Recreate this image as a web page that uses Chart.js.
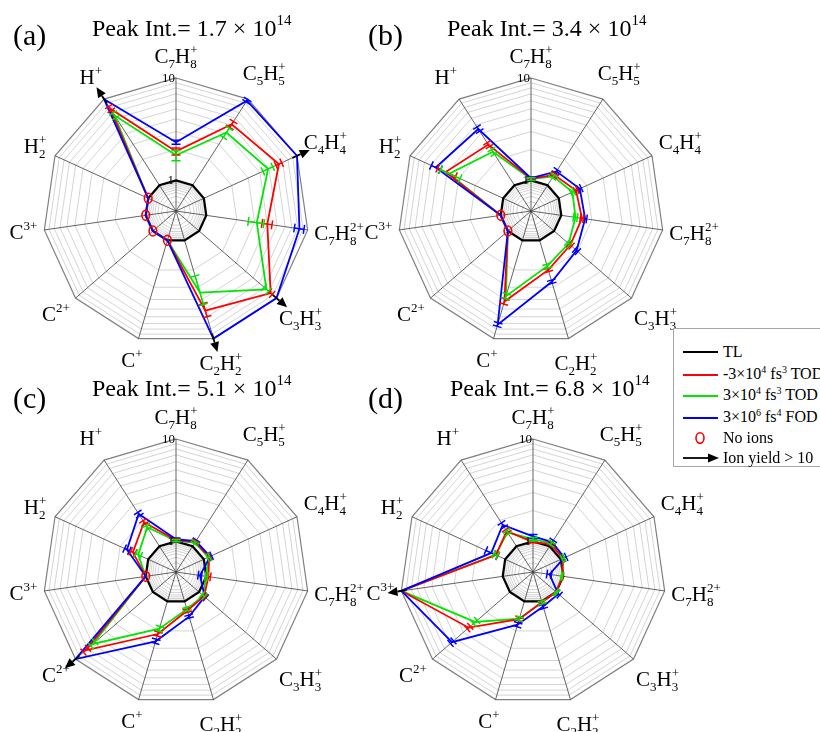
<!DOCTYPE html>
<html>
<head>
<meta charset="utf-8">
<script src="https://cdn.jsdelivr.net/npm/chart.js@4"></script>
<style>
  body { margin: 0; background: #fff; }
  #page { position: relative; width: 820px; height: 732px; overflow: hidden;
          font-family: "Liberation Serif", "Times New Roman", serif; color: #000; }
  canvas { position: absolute; }
  .tag { position: absolute; font-size: 30px; line-height: 1; }
  .title { position: absolute; font-size: 24px; line-height: 1; white-space: nowrap; }
  .title .sup { font-size: 15px; position: relative; top: -11px; }
  #legend { position: absolute; left: 673px; top: 328px; width: 170px; height: 137px;
            border: 1px solid #a6a6a6; background: #fff; font-size: 16px; z-index: 5; }
  .row { position: absolute; left: 9px; height: 20px; display: flex; align-items: center; white-space: nowrap; }
  .row svg { flex: none; }
  .row span.t { margin-left: 4px; line-height: 20px; }
  .row .sup { font-size: 10px; position: relative; top: -6px; }
</style>
</head>
<body>
<div id="page">
  <canvas id="pa" width="400" height="380" style="left:-24px;top:21px"></canvas>
  <canvas id="pb" width="400" height="380" style="left:331px;top:21px"></canvas>
  <canvas id="pc" width="400" height="380" style="left:-24px;top:382px"></canvas>
  <canvas id="pd" width="400" height="380" style="left:333px;top:382px"></canvas>

  <div class="tag" style="left:13px;top:20px">(a)</div>
  <div class="title" style="left:92px;top:16px">Peak Int.= 1.7 × 10<span class="sup">14</span></div>
  <div class="tag" style="left:368px;top:20px">(b)</div>
  <div class="title" style="left:447px;top:16px">Peak Int.= 3.4 × 10<span class="sup">14</span></div>
  <div class="tag" style="left:13px;top:383px">(c)</div>
  <div class="title" style="left:92px;top:376px">Peak Int.= 5.1 × 10<span class="sup">14</span></div>
  <div class="tag" style="left:368px;top:383px">(d)</div>
  <div class="title" style="left:450px;top:376px">Peak Int.= 6.8 × 10<span class="sup">14</span></div>

  <div id="legend">
    <div class="row" style="top:13px"><svg width="36" height="20"><line x1="0" y1="10" x2="35" y2="10" stroke="#000" stroke-width="1.8"/></svg><span class="t">TL</span></div>
    <div class="row" style="top:36px"><svg width="36" height="20"><line x1="0" y1="10" x2="35" y2="10" stroke="#ff0000" stroke-width="1.8"/></svg><span class="t">-3×10<span class="sup">4</span> fs<span class="sup">3</span> TOD</span></div>
    <div class="row" style="top:57px"><svg width="36" height="20"><line x1="0" y1="10" x2="35" y2="10" stroke="#00e600" stroke-width="1.8"/></svg><span class="t">3×10<span class="sup">4</span> fs<span class="sup">3</span> TOD</span></div>
    <div class="row" style="top:79px"><svg width="36" height="20"><line x1="0" y1="10" x2="35" y2="10" stroke="#0000ff" stroke-width="1.8"/></svg><span class="t">3×10<span class="sup">6</span> fs<span class="sup">4</span> FOD</span></div>
    <div class="row" style="top:99px"><svg width="36" height="20"><ellipse cx="17" cy="10" rx="4" ry="5.2" fill="none" stroke="#ff0000" stroke-width="1.6"/></svg><span class="t">No ions</span></div>
    <div class="row" style="top:119px"><svg width="36" height="20"><line x1="0" y1="10" x2="27" y2="10" stroke="#000" stroke-width="1.8"/><polygon points="36,10 25,5.5 25,14.5" fill="#000"/></svg><span class="t">Ion yield &gt; 10</span></div>
  </div>
</div>

<script>
// axes, clockwise from the top
const ions = ['C_7H_8^+', 'C_5H_5^+', 'C_4H_4^+', 'C_7H_8^{2+}', 'C_3H_3^+', 'C_2H_2^+',
              'C^+', 'C^{2+}', 'C^{3+}', 'H_2^+', 'H^+'];

// relative ion yield (TL = 1); 0 = no ions, > 10 = off scale
const tl = [1, 1, 1, 1, 1, 1, 1, 1, 1, 1, 1];

// (a) 1.7e14
const aNegTOD    = [1.92, 5.1, 6.4, 4.0, 8.4, 5.2, 0, 0, 0, 0, 7.8];
const aNegTODErr = [0.15, 0.4, 0.45, 0.45, 0.4, 0.8, 0, 0, 0, 0, 0.4];
const aPosTOD    = [1.76, 4.1, 4.9, 3.15, 7.4, 3.4, 0, 0, 0, 0, 6.5];
const aPosTODErr = [0.2, 0.5, 0.6, 0.55, 0.5, 1.1, 0, 0, 0, 0, 0.4];
const aFOD       = [2.36, 9.6, 12, 8.3, 12, 12, 0, 0, 0, 0, 12];
const aFODErr    = [0.1, 0.3, 0, 0.9, 0, 0, 0, 0, 0, 0, 0];

// (b) 3.4e14
const bNegTOD    = [1.04, 1.32, 1.53, 1.6, 1.62, 2.0, 4.2, 0, 0, 4.15, 2.97];
const bNegTODErr = [0.03, 0.05, 0.05, 0.06, 0.06, 0.08, 0.25, 0, 0, 0.9, 0.15];
const bPosTOD    = [1.03, 1.27, 1.4, 1.38, 1.54, 1.83, 3.7, 0, 0, 3.8, 2.45];
const bPosTODErr = [0.03, 0.05, 0.05, 0.06, 0.06, 0.08, 0.2, 0, 0, 0.9, 0.15];
const bFOD       = [1.05, 1.45, 1.68, 1.72, 1.95, 2.64, 7.2, 0, 0, 5.3, 4.5];
const bFODErr    = [0.03, 0.06, 0.06, 0.06, 0.08, 0.1, 0.3, 0, 0, 0.6, 0.25];

// (c) 5.1e14
const cNegTOD    = [1.03, 1.12, 1.14, 1.05, 1.16, 1.24, 2.15, 7.4, 0, 1.46, 1.9];
const cNegTODErr = [0.03, 0.03, 0.03, 0.05, 0.04, 0.05, 0.1, 0.5, 0, 0.08, 0.08];
const cPosTOD    = [1.01, 1.1, 1.12, 0.98, 1.13, 1.2, 1.9, 5.95, 0, 1.28, 1.66];
const cPosTODErr = [0.03, 0.03, 0.03, 0.05, 0.04, 0.05, 0.1, 0.4, 0, 0.08, 0.08];
const cFOD       = [1.05, 1.15, 1.17, 0.62, 1.18, 1.43, 2.55, 12, 0, 1.69, 2.37];
const cFODErr    = [0.03, 0.03, 0.04, 0.08, 0.04, 0.05, 0.12, 0, 0, 0.1, 0.1];

// (d) 6.8e14
const dNegTOD    = [0.95, 1.06, 1.05, 0.95, 1.0, 1.02, 1.52, 3.4, 12, 1.26, 1.5];
const dNegTODErr = [0.04, 0.04, 0.03, 0.04, 0.03, 0.04, 0.06, 0.15, 0, 0.06, 0.06];
const dPosTOD    = [1.05, 1.08, 1.06, 0.9, 1.0, 1.02, 1.5, 2.8, 12, 1.27, 1.45];
const dPosTODErr = [0.04, 0.04, 0.03, 0.04, 0.03, 0.04, 0.06, 0.15, 0, 0.06, 0.06];
const dFOD       = [1.12, 1.12, 1.09, 0.35, 1.07, 1.13, 1.73, 5.6, 12, 1.41, 1.77];
const dFODErr    = [0.05, 0.05, 0.05, 0.06, 0.04, 0.05, 0.08, 0.25, 0, 0.2, 0.1];

// grid rings (log 0.1..1 inside the TL ring, log 1..10 outside)
const gridValues = [0.2, 0.3, 0.4, 0.5, 0.6, 0.7, 0.8, 0.9, 1, 2, 3, 4, 5, 6, 7, 8, 9, 10];
const K = 0.23; // radius fraction of the "1" ring

function pos(v) {
  v = Math.min(Math.max(v, 0.1), 10);
  return v >= 1 ? K + (1 - K) * Math.log10(v) : K * (1 + Math.log10(v));
}
// no ions are drawn on the 1 ring
const plotted = v => v === 0 ? pos(1) : pos(v);

const baseFont = '21px "Liberation Serif", serif';
const smallFont = '13px "Liberation Serif", serif';

function parseFormula(s) {
  const segs = [];
  let i = 0;
  while (i < s.length) {
    const c = s[i];
    if (c === '_' || c === '^') {
      let txt;
      if (s[i + 1] === '{') { const j = s.indexOf('}', i); txt = s.slice(i + 2, j); i = j + 1; }
      else { txt = s[i + 1]; i += 2; }
      segs[segs.length - 1][c === '_' ? 'sub' : 'sup'] = txt;
    } else {
      segs.push({ base: c, sub: '', sup: '' });
      i++;
    }
  }
  return segs;
}

function formulaWidth(ctx, segs) {
  let w = 0;
  segs.forEach(s => {
    ctx.font = baseFont; w += ctx.measureText(s.base).width;
    ctx.font = smallFont; w += Math.max(ctx.measureText(s.sub).width, ctx.measureText(s.sup).width);
  });
  return w;
}

function drawFormula(ctx, segs, x, b) {
  ctx.textAlign = 'left';
  ctx.textBaseline = 'alphabetic';
  segs.forEach(s => {
    ctx.font = baseFont; ctx.fillText(s.base, x, b); x += ctx.measureText(s.base).width;
    ctx.font = smallFont;
    if (s.sub) ctx.fillText(s.sub, x, b + 5);
    if (s.sup) ctx.fillText(s.sup, x, b - 9);
    x += Math.max(ctx.measureText(s.sub).width, ctx.measureText(s.sup).width);
  });
}

const radarExtras = {
  id: 'radarExtras',
  afterDatasetsDraw(chart) {
    const ctx = chart.ctx, r = chart.scales.r;
    const sets = chart.data.datasets;
    const n = chart.data.labels.length;
    ctx.save();
    ctx.lineCap = 'butt';
    // error bars along each axis
    sets.forEach(ds => {
      if (!ds.errs) return;
      ctx.strokeStyle = ds.borderColor;
      ctx.lineWidth = 1.5;
      ds.yields.forEach((v, i) => {
        const e = ds.errs[i];
        if (!(v > 0 && v <= 10 && e > 0)) return;
        const a = r.getPointPositionForValue(i, pos(v - e));
        const b = r.getPointPositionForValue(i, pos(Math.min(v + e, 10)));
        const px = -Math.sin(a.angle) * 4.5, py = Math.cos(a.angle) * 4.5;
        ctx.beginPath();
        ctx.moveTo(a.x, a.y); ctx.lineTo(b.x, b.y);
        ctx.moveTo(a.x - px, a.y - py); ctx.lineTo(a.x + px, a.y + py);
        ctx.moveTo(b.x - px, b.y - py); ctx.lineTo(b.x + px, b.y + py);
        ctx.stroke();
      });
    });
    const R = r.drawingArea;
    for (let i = 0; i < n; i++) {
      // ion yield > 10
      if (sets.some(ds => ds.yields[i] > 10)) {
        const s = r.getPointPosition(i, R - 5);
        const m = r.getPointPosition(i, R + 4);
        const t = r.getPointPosition(i, R + 14);
        const px = -Math.sin(t.angle) * 4.5, py = Math.cos(t.angle) * 4.5;
        ctx.strokeStyle = '#000'; ctx.lineWidth = 1.8;
        ctx.beginPath(); ctx.moveTo(s.x, s.y); ctx.lineTo(m.x, m.y); ctx.stroke();
        ctx.fillStyle = '#000';
        ctx.beginPath(); ctx.moveTo(t.x, t.y); ctx.lineTo(m.x + px, m.y + py); ctx.lineTo(m.x - px, m.y - py);
        ctx.closePath(); ctx.fill();
      }
      // no ions
      if (sets.some(ds => ds.yields[i] === 0)) {
        const p = r.getPointPositionForValue(i, pos(1));
        ctx.strokeStyle = '#ff0000'; ctx.lineWidth = 1.6;
        ctx.beginPath(); ctx.ellipse(p.x, p.y, 3.8, 5, 0, 0, Math.PI * 2); ctx.stroke();
      }
    }
    ctx.restore();
  },
  afterDraw(chart) {
    const ctx = chart.ctx, r = chart.scales.r;
    const R = r.drawingArea;
    ctx.save();
    ctx.fillStyle = '#000';
    chart.data.labels.forEach((lab, i) => {
      const segs = parseFormula(lab);
      const w = formulaWidth(ctx, segs), h = 22;
      const ang = r.getPointPosition(i, 0).angle;
      const d = R + 5 + Math.abs(Math.cos(ang)) * w / 2 + Math.abs(Math.sin(ang)) * (h / 2 + 5);
      const c = r.getPointPosition(i, d);
      drawFormula(ctx, segs, c.x - w / 2, c.y + 6);
    });
    // scale labels on the top axis
    ctx.font = '13px "Liberation Serif", serif';
    ctx.textAlign = 'right';
    ctx.textBaseline = 'middle';
    ctx.fillText('10', r.xCenter - 1, r.yCenter - R + 1);
    ctx.fillText('1', r.xCenter - 2, r.yCenter - R * K);
    ctx.restore();
  }
};

function makePanel(id, negTOD, negErr, posTOD, posErr, fod, fodErr) {
  const sets = [
    { label: '3×10^6 fs^4 FOD', yields: fod, errs: fodErr, borderColor: '#0000ff', borderWidth: 1.8 },
    { label: '-3×10^4 fs^3 TOD', yields: negTOD, errs: negErr, borderColor: '#ff0000', borderWidth: 1.8 },
    { label: '3×10^4 fs^3 TOD', yields: posTOD, errs: posErr, borderColor: '#00e600', borderWidth: 1.8 },
    { label: 'TL', yields: tl, errs: null, borderColor: '#000000', borderWidth: 2.2 }
  ].map(d => Object.assign(d, { data: d.yields.map(plotted), pointRadius: 0, fill: false, tension: 0 }));

  new Chart(document.getElementById(id), {
    type: 'radar',
    data: { labels: ions, datasets: sets },
    options: {
      responsive: false,
      animation: false,
      layout: { padding: { left: 67, right: 67, top: 57, bottom: 57 } },
      plugins: { legend: { display: false }, tooltip: { enabled: false } },
      scales: {
        r: {
          min: 0,
          max: 1,
          afterBuildTicks: axis => { axis.ticks = [0].concat(gridValues.map(pos)).map(v => ({ value: v })); },
          ticks: { display: false },
          pointLabels: { display: false },
          grid: {
            color: c => (c.tick && c.tick.value > 0.999) ? '#808080' : '#d4d4d4',
            lineWidth: c => (c.tick && c.tick.value > 0.999) ? 1.2 : 1
          },
          angleLines: { color: '#3c3c3c', lineWidth: 0.8 }
        }
      }
    },
    plugins: [radarExtras]
  });
}

makePanel('pa', aNegTOD, aNegTODErr, aPosTOD, aPosTODErr, aFOD, aFODErr);
makePanel('pb', bNegTOD, bNegTODErr, bPosTOD, bPosTODErr, bFOD, bFODErr);
makePanel('pc', cNegTOD, cNegTODErr, cPosTOD, cPosTODErr, cFOD, cFODErr);
makePanel('pd', dNegTOD, dNegTODErr, dPosTOD, dPosTODErr, dFOD, dFODErr);
</script>
</body>
</html>
